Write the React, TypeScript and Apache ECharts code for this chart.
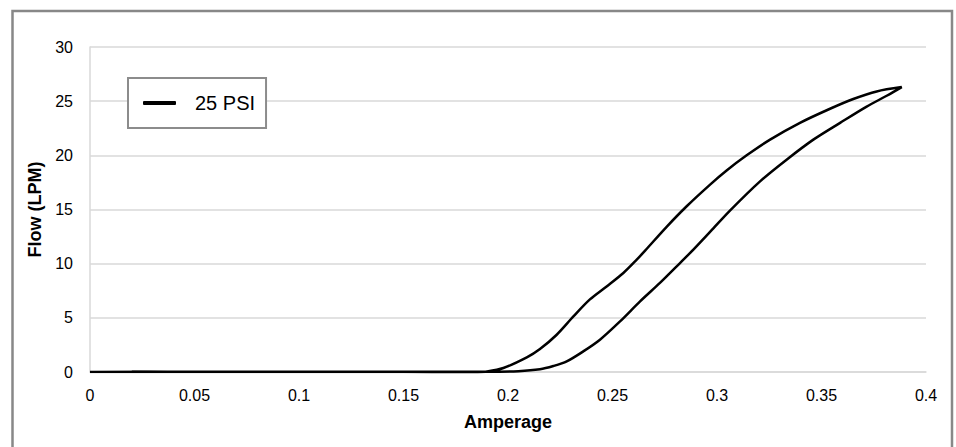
import React, { useEffect, useRef } from "react";
import * as echarts from "echarts";

const seriesName = "25 PSI";

// Amperage values along the loop (rising branch first, then returning branch)
const amperage: number[] = [
  0, 0.05, 0.1, 0.15, 0.19, 0.205, 0.2153, 0.2217, 0.2281, 0.236, 0.244,
  0.2536, 0.2632, 0.2727, 0.2823, 0.2887, 0.297, 0.3062, 0.3206, 0.3333,
  0.3461, 0.3589, 0.3716, 0.3812, 0.3884,
  0.3764, 0.3652, 0.3541, 0.3397, 0.3254, 0.3142, 0.3046, 0.2967, 0.2855,
  0.2759, 0.2656, 0.2616, 0.2552, 0.2472, 0.2392, 0.2313, 0.2233, 0.2153,
  0.209, 0.1978, 0.19, 0.18, 0.17, 0.15, 0.1, 0.05, 0.02,
];

// Flow (LPM) values matching the amperage list
const flow: number[] = [
  0, 0.02, 0.02, 0.02, 0.03, 0.08, 0.25, 0.55, 0.98, 1.9, 2.98,
  4.67, 6.52, 8.22, 10.06, 11.3, 13.0, 14.9, 17.6, 19.6,
  21.45, 23.0, 24.5, 25.5, 26.3,
  25.9, 25.2, 24.3, 23.0, 21.45, 20.0, 18.6, 17.3, 15.3,
  13.4, 11.2, 10.37, 9.14, 7.9, 6.7, 5.13, 3.44, 2.12,
  1.35, 0.37, 0.05, -0.15, -0.1, 0.0, 0.0, 0.0, 0.03,
];

const xTicks = { min: 0, max: 0.4, interval: 0.05 };
const yTicks = { min: 0, max: 30, interval: 5 };

const FONT = "'Liberation Sans', Arial, Helvetica, sans-serif";

export default function App() {
  const ref = useRef<HTMLDivElement>(null);

  useEffect(() => {
    if (!ref.current) return;
    const chart = echarts.init(ref.current, undefined, { renderer: "svg" });
    const data = amperage.map((a, i) => [a, flow[i]]);
    chart.setOption({
      animation: false,
      backgroundColor: "#ffffff",
      textStyle: { fontFamily: FONT },
      grid: { left: 90, right: 30, top: 47, bottom: 75, containLabel: false },
      graphic: [
        {
          type: "rect",
          shape: { x: 12.5, y: 11, width: 939.5, height: 460 },
          style: { fill: "none", stroke: "#888888", lineWidth: 2.5 },
          silent: true,
          z: -10,
        },
      ],
      legend: {
        left: 128,
        top: 78,
        orient: "horizontal",
        backgroundColor: "#ffffff",
        borderColor: "#8c8c8c",
        borderWidth: 2,
        borderRadius: 0,
        padding: [15, 11, 15, 15],
        itemWidth: 33,
        itemHeight: 4,
        icon: "roundRect",
        itemGap: 10,
        textStyle: {
          fontSize: 20,
          color: "#000",
          fontFamily: FONT,
          padding: [0, 0, 0, 14],
        },
        data: [seriesName],
      },
      xAxis: {
        type: "value",
        min: xTicks.min,
        max: xTicks.max,
        interval: xTicks.interval,
        name: "Amperage",
        nameLocation: "middle",
        nameGap: 41,
        nameTextStyle: {
          fontSize: 18,
          fontWeight: "bold",
          color: "#000",
          fontFamily: FONT,
        },
        axisLine: { show: true, lineStyle: { color: "#d9d9d9", width: 1.5 } },
        axisTick: { show: false },
        axisLabel: {
          fontSize: 16,
          color: "#000",
          margin: 15,
          fontFamily: FONT,
          formatter: (v: number) => String(Math.round(v * 100) / 100),
        },
        splitLine: { show: false },
      },
      yAxis: {
        type: "value",
        min: yTicks.min,
        max: yTicks.max,
        interval: yTicks.interval,
        name: "Flow (LPM)",
        nameLocation: "middle",
        nameGap: 46,
        nameRotate: 90,
        nameTextStyle: {
          fontSize: 18,
          fontWeight: "bold",
          color: "#000",
          fontFamily: FONT,
        },
        axisLine: { show: true, lineStyle: { color: "#d9d9d9", width: 1.5 } },
        axisTick: { show: false },
        axisLabel: {
          fontSize: 16,
          color: "#000",
          margin: 17,
          fontFamily: FONT,
        },
        splitLine: { show: true, lineStyle: { color: "#d9d9d9", width: 1.5 } },
      },
      series: [
        {
          name: seriesName,
          type: "line",
          data,
          smooth: 0.3,
          showSymbol: false,
          color: "#000",
          lineStyle: { color: "#000", width: 2.5 },
          z: 5,
        },
      ],
    });
    return () => chart.dispose();
  }, []);

  return (
    <div
      ref={ref}
      style={{ position: "absolute", left: 0, top: 0, width: 956, height: 447 }}
    />
  );
}
